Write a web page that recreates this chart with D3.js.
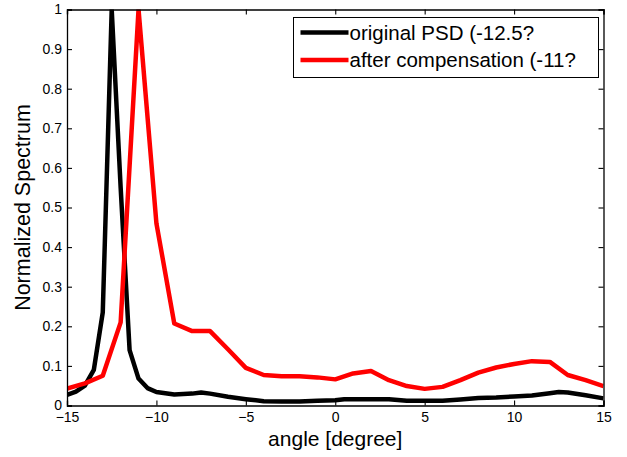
<!DOCTYPE html>
<html>
<head>
<meta charset="utf-8">
<script src="https://cdn.jsdelivr.net/npm/d3@7"></script>
<style>
  body { margin: 0; background: #fff; }
  svg { font-family: "Liberation Sans", Arial, Helvetica, sans-serif; }
</style>
</head>
<body>
<svg id="chart"></svg>
<script>
// angles [degree] and normalized spectrum values
const origAngle = [-15, -14.5, -14, -13.5, -13, -12.5, -12, -11.5, -11, -10.5, -10, -9, -8, -7.5, -7, -6, -5, -4, -3, -2, -1, 0, 0.5, 1, 2, 3, 4, 5, 6, 7, 8, 9, 10, 11, 12, 12.5, 13, 14, 15];
const origPSD   = [0.027, 0.035, 0.05, 0.09, 0.235, 1.0, 0.55, 0.14, 0.068, 0.044, 0.034, 0.028, 0.03, 0.033, 0.03, 0.022, 0.016, 0.011, 0.01, 0.01, 0.012, 0.013, 0.016, 0.016, 0.016, 0.016, 0.012, 0.012, 0.012, 0.015, 0.019, 0.02, 0.023, 0.025, 0.031, 0.034, 0.033, 0.026, 0.018];

const compAngle = [-15, -14, -13, -12, -11, -10, -9, -8, -7, -6, -5, -4, -3, -2, -1, 0, 1, 2, 3, 4, 5, 6, 7, 8, 9, 10, 11, 12, 13, 14, 15];
const compPSD   = [0.043, 0.056, 0.075, 0.21, 1.0, 0.46, 0.207, 0.188, 0.188, 0.142, 0.095, 0.077, 0.074, 0.074, 0.071, 0.066, 0.081, 0.087, 0.064, 0.049, 0.042, 0.047, 0.064, 0.083, 0.096, 0.105, 0.112, 0.11, 0.077, 0.064, 0.049];

const xTicks = [-15, -10, -5, 0, 5, 10, 15];
const yTicks = [0, 0.1, 0.2, 0.3, 0.4, 0.5, 0.6, 0.7, 0.8, 0.9, 1];

const legendLabels = ['original PSD (-12.5?', 'after compensation (-11?'];
const seriesColors = ['#000000', '#ff0000'];

const width = 627, height = 457;
const margin = {top: 9.5, right: 23.5, bottom: 51.5, left: 67};
const innerW = width - margin.left - margin.right;
const innerH = height - margin.top - margin.bottom;

const svg = d3.select('#chart')
    .attr('width', width)
    .attr('height', height);

const chart = svg.append('g')
    .attr('transform', `translate(${margin.left}, ${margin.top})`);

const xscale = d3.scaleLinear().domain([-15, 15]).range([0, innerW]);
const yscale = d3.scaleLinear().domain([0, 1]).range([innerH, 0]);

svg.append('defs').append('clipPath')
    .attr('id', 'plot-clip')
  .append('rect')
    .attr('width', innerW)
    .attr('height', innerH);

// data lines
const series = [
    {x: origAngle, y: origPSD, color: seriesColors[0]},
    {x: compAngle, y: compPSD, color: seriesColors[1]}
];

const line = d3.line()
    .x(d => xscale(d[0]))
    .y(d => yscale(d[1]));

const lines = chart.append('g').attr('clip-path', 'url(#plot-clip)');
series.forEach(s => {
    lines.append('path')
        .attr('d', line(s.x.map((v, i) => [v, s.y[i]])))
        .attr('fill', 'none')
        .attr('stroke', s.color)
        .attr('stroke-width', 4.5)
        .attr('stroke-linejoin', 'round');
});

// axes, matlab style box with inward ticks on all four sides
const tickLen = 5;
const axisFmt = d => d3.format('~g')(d);

const xaxisBottom = d3.axisBottom(xscale).tickValues(xTicks).tickSize(-tickLen).tickPadding(7).tickFormat(axisFmt);
const xaxisTop = d3.axisTop(xscale).tickValues(xTicks).tickSize(-tickLen).tickFormat('');
const yaxisLeft = d3.axisLeft(yscale).tickValues(yTicks).tickSize(-tickLen).tickPadding(5).tickFormat(axisFmt);
const yaxisRight = d3.axisRight(yscale).tickValues(yTicks).tickSize(-tickLen).tickFormat('');

const axes = [
    chart.append('g').attr('transform', `translate(0, ${innerH})`).call(xaxisBottom),
    chart.append('g').call(xaxisTop),
    chart.append('g').call(yaxisLeft),
    chart.append('g').attr('transform', `translate(${innerW}, 0)`).call(yaxisRight)
];

axes.forEach(g => {
    g.select('.domain').attr('stroke', '#000').attr('stroke-width', 1.3);
    g.selectAll('.tick line').attr('stroke', '#000').attr('stroke-width', 1.1);
    g.selectAll('.tick text')
        .attr('fill', '#000')
        .style('font-size', '14px')
        .style('font-family', '"Liberation Sans", Arial, sans-serif');
});

// axis labels
svg.append('text')
    .attr('x', margin.left + innerW / 2)
    .attr('y', 446)
    .attr('text-anchor', 'middle')
    .style('font-size', '21px')
    .text('angle [degree]');

svg.append('text')
    .attr('transform', `translate(30, ${margin.top + innerH / 2}) rotate(-90)`)
    .attr('text-anchor', 'middle')
    .style('font-size', '21.5px')
    .text('Normalized Spectrum');

// legend
const legend = svg.append('g').attr('transform', 'translate(293.5, 17.5)');
legend.append('rect')
    .attr('width', 305)
    .attr('height', 60)
    .attr('fill', '#fff')
    .attr('stroke', '#000')
    .attr('stroke-width', 1);

legendLabels.forEach((label, i) => {
    const cy = 15 + i * 27.5;
    legend.append('line')
        .attr('x1', 7).attr('x2', 55)
        .attr('y1', cy).attr('y2', cy)
        .attr('stroke', seriesColors[i])
        .attr('stroke-width', 4.5);
    legend.append('text')
        .attr('x', 56)
        .attr('y', cy + 7)
        .style('font-size', '20.5px')
        .text(label);
});
</script>
</body>
</html>
